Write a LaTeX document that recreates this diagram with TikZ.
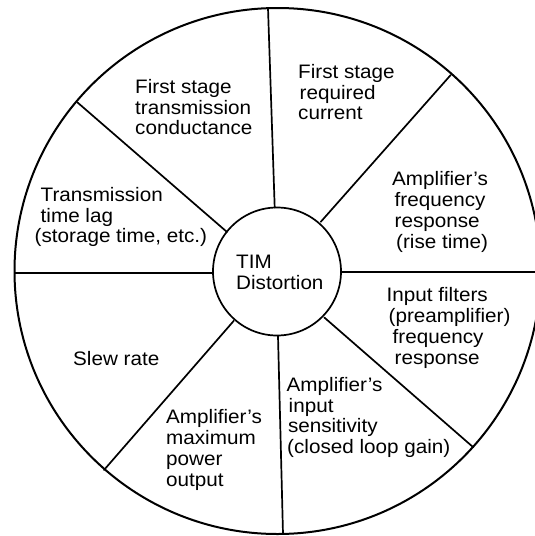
\documentclass[tikz,border=0pt]{standalone}
\usepackage{fontspec}
\setmainfont{Liberation Sans}[FakeStretch=1.06]
\newcommand\labfont{\fontsize{19.5}{20.8}\selectfont}
\begin{document}
\begin{tikzpicture}[x=1pt,y=-1pt,
  lab/.style={align=left,anchor=north west,inner sep=0pt,font=\labfont},
  spoke/.style={line width=1.7pt,line cap=round},
  rimline/.style={line width=2pt}]
\useasboundingbox (0,0) rectangle (535,536);
% outer rim and hub
\node[circle,draw,rimline,minimum size=526pt,inner sep=0pt] (rim) at (277.5,271) {};
\node[circle,draw,line width=1.7pt,minimum size=128pt,inner sep=0pt] (hub) at (277,271.5) {};
% spoke end points (hub side / rim side)
\coordinate (i1) at (274.7,207.5); \coordinate (o1) at (268,8);
\coordinate (i2) at (320.8,221.8); \coordinate (o2) at (450.7,75);
\coordinate (i3) at (341.3,272);   \coordinate (o3) at (545,272);
\coordinate (i4) at (324.2,317.4); \coordinate (o4) at (473.3,447.3);
\coordinate (i5) at (278,336);     \coordinate (o5) at (283,534);
\coordinate (i6) at (233.8,320.8); \coordinate (o6) at (104,470);
\coordinate (i7) at (213.3,273);   \coordinate (o7) at (15,273);
\coordinate (i8) at (227,232);     \coordinate (o8) at (77.3,102.3);
\foreach \k in {1,...,8} {\draw[spoke] (i\k) -- (o\k);}
% labels
\node[lab] (tim) at (236,255) {TIM\\Distortion};
\node[lab] (fsc) at (135,79) {First stage\\transmission\\conductance};
\node[lab] (fsr) at (298,64) {First stage\\\hspace*{1.5pt}required\\current};
\node[lab] (afr) at (392,171.5) {Amplifier’s\\\hspace*{2.5pt}frequency\\\hspace*{2.5pt}response\\\hspace*{4pt}(rise time)};
\node[lab] (inf) at (386.5,287.5) {Input filters\\\hspace*{2pt}(preamplifier)\\\hspace*{6pt}frequency\\\hspace*{8pt}response};
\node[lab] (ais) at (286.5,377) {Amplifier’s\\\hspace*{2pt}input\\\hspace*{1.3pt}sensitivity\\\hspace*{0.5pt}(closed loop gain)};
\node[lab] (amp) at (166,409.5) {Amplifier’s\\maximum\\power\\output};
\node[lab] (slw) at (73,351.5) {Slew rate};
\node[lab] (ttl) at (34.5,187) {\hspace*{6pt}Transmission\\\hspace*{6pt}time lag\\(storage time, etc.)};
\end{tikzpicture}
\end{document}
